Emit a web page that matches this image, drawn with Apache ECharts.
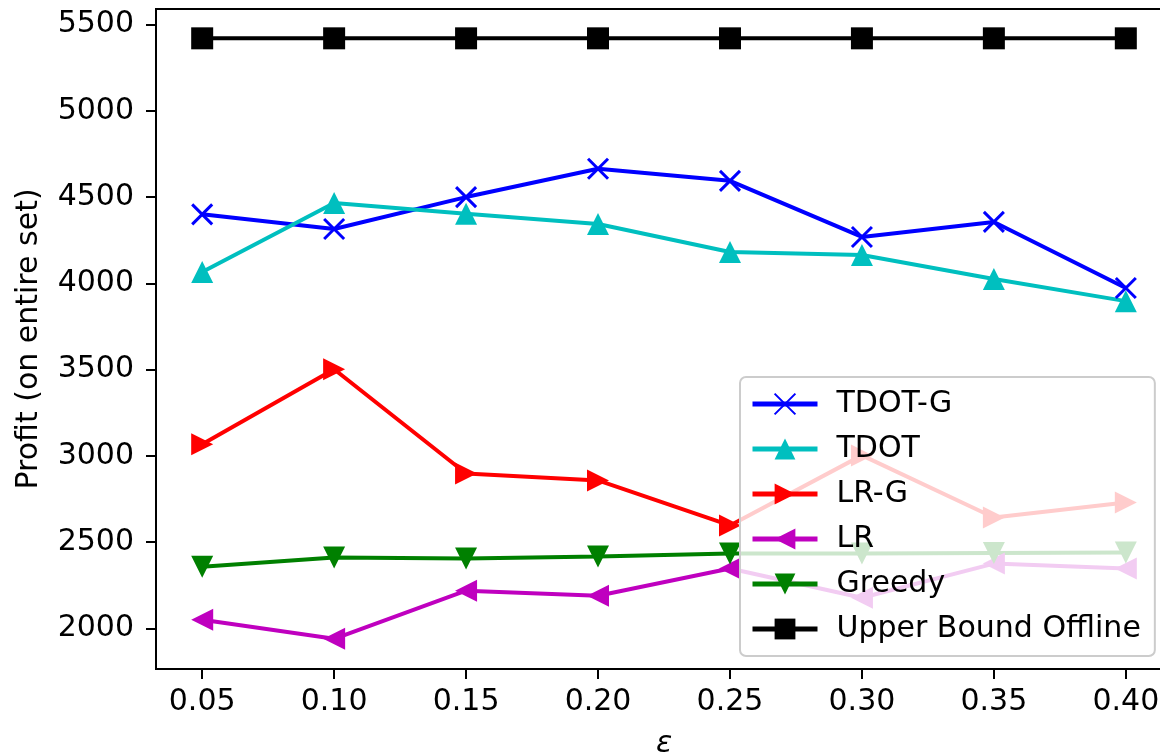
<!DOCTYPE html>
<html lang="en" style="height: 100%">
<head>
<meta charset="utf-8">
<title>Profit vs epsilon</title>
</head>
<body style="height: 100%; margin: 0; background: #fff">
<div id="container" style="width: 1160px; height: 756px"></div>
<script type="text/javascript" src="https://cdn.jsdelivr.net/npm/echarts/dist/echarts.min.js"></script>
<script type="text/javascript">
var eps = [0.05, 0.10, 0.15, 0.20, 0.25, 0.30, 0.35, 0.40];
var xTicks = [0.05, 0.10, 0.15, 0.20, 0.25, 0.30, 0.35, 0.40];
var yTicks = [2000, 2500, 3000, 3500, 4000, 4500, 5000, 5500];

var tdotG = [4400, 4315, 4500, 4664, 4594, 4269, 4356, 3973];
var tdot = [4066, 4466, 4403, 4344, 4182, 4164, 4025, 3897];
var lrG = [3067, 3502, 2898, 2858, 2597, 3003, 2643, 2730];
var lr = [2051, 1940, 2219, 2190, 2347, 2178, 2376, 2347];
var greedy = [2358, 2411, 2405, 2417, 2434, 2434, 2437, 2440];
var upper = [5420, 5420, 5420, 5420, 5420, 5420, 5420, 5420];

var FONT = 'DejaVu Sans';
var FS = 30;

var dom = document.getElementById('container');
var myChart = echarts.init(dom, null, { width: 1160, height: 756 });

function pts(vals) {
    return vals.map(function (v, i) { return [eps[i], v]; });
}

function mkSeries(name, vals, color, symbol, rotate, size) {
    return {
        name: name,
        type: 'line',
        data: pts(vals),
        symbol: symbol,
        symbolSize: size,
        symbolRotate: rotate,
        showSymbol: true,
        animation: false,
        lineStyle: { color: color, width: 4 },
        itemStyle: { color: color, borderColor: color, borderWidth: symbol.indexOf('path') === 0 ? 3 : 0 }
    };
}

var crossPath = 'path://M0,0L10,10M10,0L0,10';

var option = {
    animation: false,
    grid: {
        left: 156, top: 9, width: 1016, height: 660,
        outerBoundsMode: 'none', containLabel: false,
        show: true, borderColor: '#000', borderWidth: 2, backgroundColor: 'transparent'
    },
    xAxis: {
        type: 'value',
        min: 0.0325,
        max: 0.4175,
        name: 'ε',
        nameLocation: 'middle',
        nameGap: 60,
        nameTextStyle: { fontFamily: FONT, fontSize: FS, fontStyle: 'italic', color: '#000' },
        splitLine: { show: false },
        axisLine: { onZero: false, lineStyle: { color: '#000', width: 2 } },
        axisTick: { show: true, length: 10, lineStyle: { color: '#000', width: 2 }, customValues: xTicks },
        axisLabel: {
            fontFamily: FONT, fontSize: FS, color: '#000', margin: 18,
            customValues: xTicks,
            formatter: function (v) { return v.toFixed(2); }
        }
    },
    yAxis: {
        type: 'value',
        min: 1765,
        max: 5590,
        name: 'Profit (on entire set)',
        nameLocation: 'middle',
        nameGap: 112,
        nameTextStyle: { fontFamily: FONT, fontSize: FS, color: '#000' },
        splitLine: { show: false },
        axisLine: { show: true, onZero: false, lineStyle: { color: '#000', width: 2 } },
        axisTick: { show: true, length: 10, lineStyle: { color: '#000', width: 2 }, customValues: yTicks },
        axisLabel: {
            fontFamily: FONT, fontSize: FS, color: '#000', margin: 22,
            customValues: yTicks,
            formatter: function (v) { return String(v); }
        }
    },
    legend: {
        orient: 'vertical',
        left: 740,
        top: 377,
        padding: [12, 14, 12, 10],
        itemWidth: 65,
        itemHeight: 26,
        itemGap: 15,
        lineStyle: { width: 5 },
        backgroundColor: 'rgba(255,255,255,0.8)',
        borderColor: '#cccccc',
        borderWidth: 2,
        borderRadius: 6,
        textStyle: { fontFamily: FONT, fontSize: FS, color: '#000', lineHeight: 30, padding: [0, 0, 0, 14] },
        data: ['TDOT-G', 'TDOT', 'LR-G', 'LR', 'Greedy', 'Upper Bound Offline']
    },
    series: [
        mkSeries('TDOT-G', tdotG, '#0000ff', crossPath, 0, 20),
        mkSeries('TDOT', tdot, '#00bfbf', 'triangle', 0, 22),
        mkSeries('LR-G', lrG, '#ff0000', 'triangle', -90, 22),
        mkSeries('LR', lr, '#bf00bf', 'triangle', 90, 22),
        mkSeries('Greedy', greedy, '#008000', 'triangle', 180, 22),
        mkSeries('Upper Bound Offline', upper, '#000000', 'rect', 0, 22)
    ]
};

myChart.setOption(option);
window.addEventListener('resize', myChart.resize);
</script>
</body>
</html>
